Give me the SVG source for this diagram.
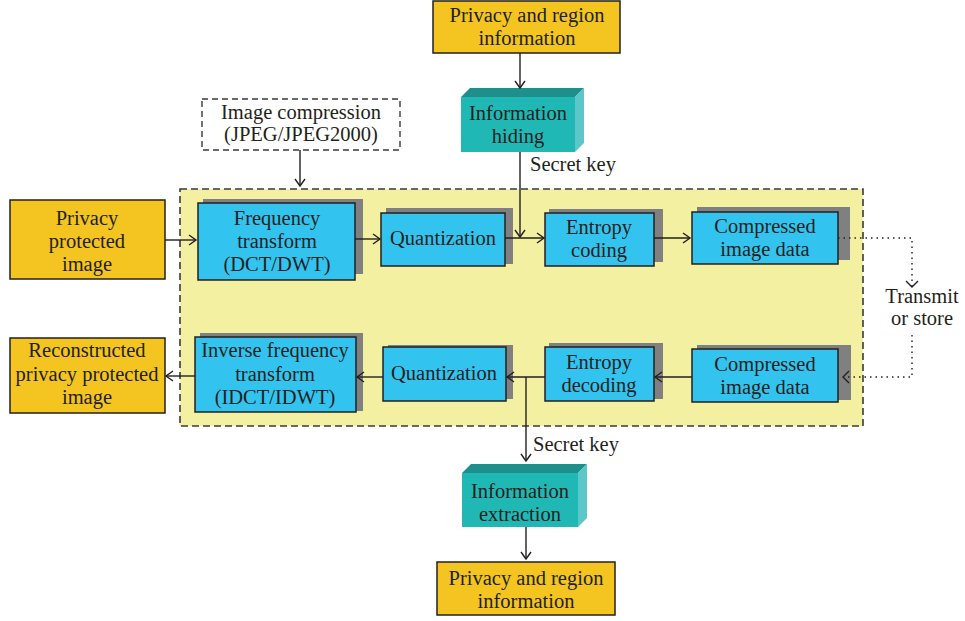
<svg xmlns="http://www.w3.org/2000/svg" width="965" height="621" viewBox="0 0 965 621">
<defs>
<style>
text{font-family:'Liberation Serif','DejaVu Serif',serif;font-size:20.5px;fill:#231f20;text-anchor:middle}
.gold{fill:#f4c520;stroke:#231f20;stroke-width:1.5}
.blue{fill:#33c3ef;stroke:#231f20;stroke-width:1.5}
.sh{fill:#808080}
.ln{fill:none;stroke:#231f20;stroke-width:1.4}
.dot{fill:none;stroke:#231f20;stroke-width:1.4;stroke-dasharray:1.5 4}
.front{fill:#20b8b4}
.top{fill:#1f8f8b}
.side{fill:#5bc7c8}
</style>
<marker id="ah" markerWidth="10" markerHeight="12" refX="8" refY="6" orient="auto" markerUnits="userSpaceOnUse">
<path d="M1,1 L8,6 L1,11" fill="none" stroke="#231f20" stroke-width="1.4"/>
</marker>
</defs>
<rect width="965" height="621" fill="#fff"/>

<g id="region">
<rect x="180" y="189" width="683" height="237" fill="#f4f0a2" stroke="#3a3a3a" stroke-width="1.6" stroke-dasharray="7 4"/>
</g>

<g id="privacy-top">
<rect class="gold" x="433" y="1" width="187" height="52"/>
<text x="527" y="22">Privacy and region</text>
<text x="527" y="45">information</text>
</g>

<g id="info-hiding">
<polygon class="top" points="461,97 470,88 584,88 575,97"/>
<polygon class="side" points="575,97 584,88 584,143 575,152"/>
<rect class="front" x="461" y="97" width="114" height="55"/>
<text x="518" y="120">Information</text>
<text x="518" y="143">hiding</text>
</g>

<g id="secret-key-top"><text x="573" y="171">Secret key</text></g>

<g id="image-compression">
<rect x="202" y="99" width="198" height="51" fill="#fff" stroke="#3a3a3a" stroke-width="1.4" stroke-dasharray="6 4"/>
<text x="301" y="119">Image compression</text>
<text x="301" y="141">(JPEG/JPEG2000)</text>
</g>

<g id="privacy-protected">
<rect class="gold" x="10" y="200" width="155" height="79"/>
<text x="87" y="225">Privacy</text>
<text x="87" y="248">protected</text>
<text x="87" y="271">image</text>
</g>

<g id="freq">
<rect class="sh" x="203" y="199" width="160" height="75"/>
<rect class="blue" x="198" y="203" width="157" height="77"/>
<text x="277" y="225">Frequency</text>
<text x="277" y="248">transform</text>
<text x="277" y="271">(DCT/DWT)</text>
</g>

<g id="quant-top">
<rect class="sh" x="386" y="208" width="127" height="56"/>
<rect class="blue" x="381" y="213" width="124" height="53"/>
<text x="443" y="245">Quantization</text>
</g>

<g id="entropy-coding">
<rect class="sh" x="549" y="209" width="114" height="53"/>
<rect class="blue" x="545" y="213" width="109" height="53"/>
<text x="599" y="234">Entropy</text>
<text x="599" y="257">coding</text>
</g>

<g id="compressed-top">
<rect class="sh" x="697" y="207" width="153" height="53"/>
<rect class="blue" x="692" y="212" width="146" height="52"/>
<text x="765" y="233">Compressed</text>
<text x="765" y="256">image data</text>
</g>

<g id="transmit">
<text x="922" y="303">Transmit</text>
<text x="922" y="325">or store</text>
</g>

<g id="compressed-bottom">
<rect class="sh" x="697" y="345" width="154" height="55"/>
<rect class="blue" x="692" y="349" width="146" height="53"/>
<text x="765" y="371">Compressed</text>
<text x="765" y="394">image data</text>
</g>

<g id="entropy-decoding">
<rect class="sh" x="549" y="343" width="114" height="56"/>
<rect class="blue" x="545" y="347" width="109" height="54"/>
<text x="599" y="369">Entropy</text>
<text x="599" y="392">decoding</text>
</g>

<g id="quant-bottom">
<rect class="sh" x="388" y="345" width="125" height="54"/>
<rect class="blue" x="383" y="347" width="123" height="54"/>
<text x="444" y="380">Quantization</text>
</g>

<g id="inverse">
<rect class="sh" x="200" y="333" width="163" height="78"/>
<rect class="blue" x="195" y="337" width="161" height="75"/>
<text x="275" y="357">Inverse frequency</text>
<text x="275" y="381">transform</text>
<text x="275" y="404">(IDCT/IDWT)</text>
</g>

<g id="reconstructed">
<rect class="gold" x="10" y="338" width="155" height="75"/>
<text x="87" y="357">Reconstructed</text>
<text x="87" y="381">privacy protected</text>
<text x="87" y="404">image</text>
</g>

<g id="secret-key-bottom"><text x="576" y="451">Secret key</text></g>

<g id="info-extraction">
<polygon class="top" points="462,473 471,464 587,464 578,473"/>
<polygon class="side" points="578,473 587,464 587,518 578,527"/>
<rect class="front" x="462" y="473" width="116" height="54"/>
<text x="520" y="498">Information</text>
<text x="520" y="521">extraction</text>
</g>

<g id="privacy-bottom">
<rect class="gold" x="437" y="562" width="178" height="53"/>
<text x="526" y="585">Privacy and region</text>
<text x="526" y="608">information</text>
</g>

<g id="connectors">
<path class="ln" d="M520,53 V88" marker-end="url(#ah)"/>
<path class="ln" d="M300,150 V186" marker-end="url(#ah)"/>
<path class="ln" d="M520,152 V237" marker-end="url(#ah)"/>
<path class="ln" d="M165,240 H196" marker-end="url(#ah)"/>
<path class="ln" d="M355,239 H380" marker-end="url(#ah)"/>
<path class="ln" d="M505,238 H544" marker-end="url(#ah)"/>
<path class="ln" d="M654,238 H690" marker-end="url(#ah)"/>
<path class="dot" d="M838,238 H912 V287"/>
<path class="ln" d="M906,281 L912,287 L918,281" stroke-width="1.2"/>
<path class="dot" d="M912,335 V377 H843"/>
<path class="ln" d="M849,371 L843,377 L849,383" stroke-width="1.2"/>
<path class="ln" d="M692,377 H655" marker-end="url(#ah)"/>
<path class="ln" d="M545,377 H507" marker-end="url(#ah)"/>
<path class="ln" d="M526,377 V461" marker-end="url(#ah)"/>
<path class="ln" d="M383,377 H357" marker-end="url(#ah)"/>
<path class="ln" d="M195,376 H166" marker-end="url(#ah)"/>
<path class="ln" d="M526,527 V559" marker-end="url(#ah)"/>
</g>
</svg>
